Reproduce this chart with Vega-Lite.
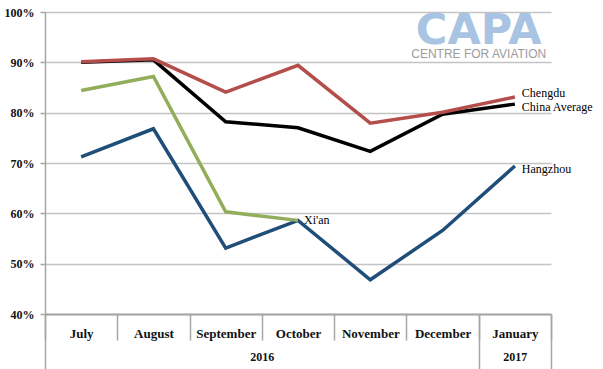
{
  "$schema": "https://vega.github.io/schema/vega-lite/v6.json",
  "width": 506,
  "height": 302,
  "autosize": "none",
  "padding": {"left": 45, "top": 12, "right": 52, "bottom": 55},
  "config": {"view": {"stroke": null}},
  "datasets": {
    "occupancy": [
      {"series": "Hangzhou", "month": "July", "value": 0.712},
      {"series": "Hangzhou", "month": "August", "value": 0.768},
      {"series": "Hangzhou", "month": "September", "value": 0.531},
      {"series": "Hangzhou", "month": "October", "value": 0.586},
      {"series": "Hangzhou", "month": "November", "value": 0.468},
      {"series": "Hangzhou", "month": "December", "value": 0.566},
      {"series": "Hangzhou", "month": "January", "value": 0.694},
      {"series": "Xi'an", "month": "July", "value": 0.844},
      {"series": "Xi'an", "month": "August", "value": 0.872},
      {"series": "Xi'an", "month": "September", "value": 0.603},
      {"series": "Xi'an", "month": "October", "value": 0.586},
      {"series": "China Average", "month": "July", "value": 0.900},
      {"series": "China Average", "month": "August", "value": 0.905},
      {"series": "China Average", "month": "September", "value": 0.782},
      {"series": "China Average", "month": "October", "value": 0.770},
      {"series": "China Average", "month": "November", "value": 0.723},
      {"series": "China Average", "month": "December", "value": 0.797},
      {"series": "China Average", "month": "January", "value": 0.817},
      {"series": "Chengdu", "month": "July", "value": 0.901},
      {"series": "Chengdu", "month": "August", "value": 0.907},
      {"series": "Chengdu", "month": "September", "value": 0.841},
      {"series": "Chengdu", "month": "October", "value": 0.894},
      {"series": "Chengdu", "month": "November", "value": 0.779},
      {"series": "Chengdu", "month": "December", "value": 0.801},
      {"series": "Chengdu", "month": "January", "value": 0.831}
    ],
    "years": [
      {"year": "2016", "first": 0, "last": 6},
      {"year": "2017", "first": 6, "last": 7}
    ],
    "logo": [
      {"name": "CAPA", "tagline": "CENTRE FOR AVIATION"}
    ]
  },
  "layer": [
    {
      "data": {"name": "occupancy"},
      "encoding": {
        "x": {
          "field": "month", "type": "ordinal",
          "sort": ["July", "August", "September", "October", "November", "December", "January"],
          "scale": {"paddingInner": 0, "paddingOuter": 0},
          "axis": {
            "title": null, "orient": "bottom", "labelAngle": 0, "tickBand": "extent", "tickSize": 26,
            "tickColor": "#a6a6a6", "tickWidth": 1.5, "domainColor": "#a6a6a6", "domainWidth": 2,
            "labelBaseline": "middle", "labelPadding": -7,
            "labelFont": "Liberation Serif", "labelFontWeight": "bold", "labelFontSize": 13, "labelColor": "#111111"
          }
        },
        "y": {
          "field": "value", "type": "quantitative",
          "scale": {"domain": [0.4, 1], "nice": false, "zero": false},
          "axis": {
            "title": null, "values": [0.4, 0.5, 0.6, 0.7, 0.8, 0.9, 1.0], "format": ".0%",
            "tickSize": 5, "tickColor": "#a6a6a6", "tickWidth": 1.5,
            "domainColor": "#a6a6a6", "domainWidth": 1.5,
            "gridColor": "#c4c4c4", "gridWidth": 1.5,
            "labelPadding": 6, "labelFont": "Liberation Serif", "labelFontWeight": "bold",
            "labelFontSize": 12, "labelColor": "#111111"
          }
        }
      },
      "layer": [
        {
          "mark": {"type": "line", "strokeWidth": 3.5},
          "encoding": {
            "color": {
              "field": "series", "type": "nominal", "legend": null,
              "scale": {"domain": ["Hangzhou", "Xi'an", "China Average", "Chengdu"], "range": ["#1f4e78", "#92ae5b", "#000000", "#b44e4b"]}
            }
          }
        },
        {
          "transform": [{"filter": "datum.series == 'Chengdu' && datum.month == 'January'"}],
          "mark": {"type": "text", "align": "left", "baseline": "middle", "dx": 7, "dy": -4, "font": "Liberation Serif", "fontSize": 12, "color": "#000000"},
          "encoding": {"text": {"field": "series"}}
        },
        {
          "transform": [{"filter": "datum.series == 'China Average' && datum.month == 'January'"}],
          "mark": {"type": "text", "align": "left", "baseline": "middle", "dx": 7, "dy": 3, "font": "Liberation Serif", "fontSize": 12, "color": "#000000"},
          "encoding": {"text": {"field": "series"}}
        },
        {
          "transform": [{"filter": "datum.series == 'Hangzhou' && datum.month == 'January'"}],
          "mark": {"type": "text", "align": "left", "baseline": "middle", "dx": 7, "dy": 3, "font": "Liberation Serif", "fontSize": 12, "color": "#000000"},
          "encoding": {"text": {"field": "series"}}
        },
        {
          "transform": [{"filter": "datum.series == \"Xi'an\" && datum.month == 'October'"}],
          "mark": {"type": "text", "align": "left", "baseline": "middle", "dx": 6, "dy": 0, "font": "Liberation Serif", "fontSize": 12, "color": "#000000"},
          "encoding": {"text": {"field": "series"}}
        }
      ]
    },
    {
      "data": {"name": "years"},
      "mark": {"type": "rule", "opacity": 0},
      "encoding": {
        "x": {
          "field": "first", "type": "quantitative",
          "scale": {"domain": [0, 7], "nice": false, "zero": false},
          "axis": {
            "title": null, "orient": "bottom", "values": [0, 3, 6, 6.5, 7], "domain": false, "grid": false,
            "tickSize": 55, "tickColor": "#a6a6a6", "tickWidth": 1.5,
            "tickOpacity": {"condition": {"test": "datum.value == 3 || datum.value == 6.5", "value": 0}, "value": 1},
            "labelExpr": "datum.value == 3 ? '2016' : (datum.value == 6.5 ? '2017' : '')",
            "labelBaseline": "middle", "labelPadding": -13, "labelFlush": false, "labelOverlap": false,
            "labelFont": "Liberation Serif", "labelFontWeight": "bold", "labelFontSize": 12, "labelColor": "#111111"
          }
        },
        "x2": {"field": "last"}
      }
    },
    {
      "data": {"name": "logo"},
      "layer": [
        {
          "mark": {"type": "text", "font": "DejaVu Sans", "fontWeight": "bold", "fontSize": 43, "color": "#a8c4e2", "align": "center", "baseline": "middle"},
          "encoding": {
            "text": {"field": "name"},
            "y": {"datum": 0.963, "type": "quantitative"}
          }
        },
        {
          "mark": {"type": "text", "font": "Liberation Sans", "fontSize": 12, "color": "#9c9c9c", "align": "center", "baseline": "middle"},
          "encoding": {
            "text": {"field": "tagline"},
            "y": {"datum": 0.917, "type": "quantitative"}
          }
        }
      ],
      "encoding": {
        "x": {"datum": 6, "type": "quantitative", "scale": {"domain": [0, 7], "nice": false, "zero": false}, "axis": null}
      }
    }
  ],
  "resolve": {"scale": {"x": "independent"}}
}
